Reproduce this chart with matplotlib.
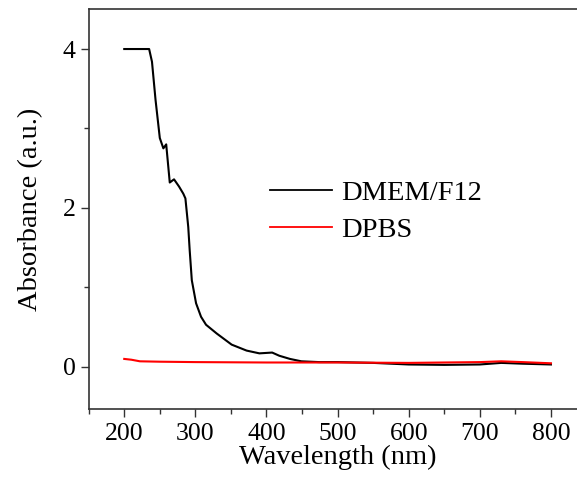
import numpy as np
import matplotlib
matplotlib.use("Agg")
import matplotlib.pyplot as plt
from matplotlib.ticker import MultipleLocator

plt.rcParams["font.family"] = ["Liberation Serif", "DejaVu Serif"]

# DMEM/F12 absorbance spectrum
wl_dmem = [200, 235, 239, 244, 250, 255, 259, 264, 270, 277, 283, 286, 290, 292,
           295, 301, 308, 315, 330, 351, 372, 390, 408, 418, 433, 449, 474,
           500, 550, 600, 650, 700, 730, 760, 800]
abs_dmem = [4.0, 4.0, 3.84, 3.36, 2.88, 2.75, 2.80, 2.32, 2.36, 2.27, 2.18, 2.12, 1.76, 1.47,
            1.09, 0.80, 0.63, 0.53, 0.42, 0.28, 0.205, 0.17, 0.18, 0.14, 0.10, 0.07, 0.06,
            0.06, 0.05, 0.03, 0.025, 0.03, 0.05, 0.04, 0.03]

# DPBS absorbance spectrum
wl_dpbs = [200, 210, 222, 250, 300, 400, 500, 600, 650, 700, 730, 760, 800]
abs_dpbs = [0.10, 0.09, 0.07, 0.065, 0.06, 0.055, 0.055, 0.05, 0.055, 0.06, 0.07, 0.06, 0.045]

fig = plt.figure(figsize=(5.77, 4.84), dpi=100)
ax = fig.add_axes([0.1537, 0.155, 1.0165 - 0.1537, 0.9808 - 0.155])

ax.plot(wl_dmem, abs_dmem, color="black", lw=1.5, label="DMEM/F12")
ax.plot(wl_dpbs, abs_dpbs, color="red", lw=1.5, label="DPBS")

ax.set_xlim(150, 850)
ax.set_ylim(-0.53, 4.5)
ax.xaxis.set_major_locator(MultipleLocator(100))
ax.xaxis.set_minor_locator(MultipleLocator(50))
ax.yaxis.set_major_locator(MultipleLocator(2))
ax.yaxis.set_minor_locator(MultipleLocator(1))
ax.set_xticks([200, 300, 400, 500, 600, 700, 800])

for s in ax.spines.values():
    s.set_color("#333333")
    s.set_linewidth(1.2)

ax.tick_params(which="major", direction="out", length=6, width=1, labelsize=18.5,
               color="#333333")
ax.tick_params(which="minor", direction="out", length=3.5, width=1, color="#333333")
ax.tick_params(axis="x", pad=4)

ax.set_xlabel("Wavelength (nm)", fontsize=20.5, labelpad=0)
ax.set_ylabel("Absorbance (a.u.)", fontsize=20.5, labelpad=14)

leg = ax.legend(loc="upper left", bbox_to_anchor=(0.341, 0.602), frameon=False,
                fontsize=20.5, handlelength=2.2, handletextpad=0.3, labelspacing=0.39,
                borderaxespad=0)
for line in leg.get_lines():
    line.set_linewidth(1.3)

fig.savefig("out.png", dpi=100)
